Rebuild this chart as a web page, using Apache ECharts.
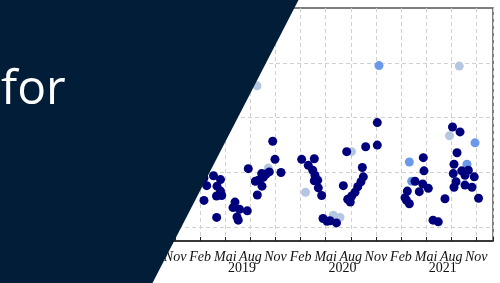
<!DOCTYPE html>
<html>
<head>
<meta charset="utf-8">
<script src="https://cdn.jsdelivr.net/npm/echarts@6/dist/echarts.min.js"></script>
<style>
  html, body { margin: 0; padding: 0; background: #fff; }
  #main { width: 500px; height: 283px; }
</style>
</head>
<body>
<div id="main"></div>
<script>
// x = months since Feb 2018, y = value (axis labels hidden in the picture)
var monthLabels = ['Aug', 'Nov', 'Feb', 'Mai', 'Aug', 'Nov', 'Feb', 'Mai', 'Aug', 'Nov', 'Feb', 'Mai', 'Aug', 'Nov'];
var yearLabels = ['2019', '2020', '2021'];
var yearPos = [17, 29, 41];
var gridLevels = [1, 2, 3, 4];

var darkPoints = [
    [12.45, 1.90], [12.78, 1.76], [13.59, 1.94], [14.43, 1.87], [14.01, 1.75], [14.43, 1.66],
    [14.57, 1.58], [13.95, 1.57], [12.45, 1.49], [13.97, 1.18], [16.16, 1.46], [15.92, 1.36],
    [16.70, 1.33], [17.63, 1.30], [16.40, 1.19], [16.55, 1.13], [17.75, 2.07], [18.95, 1.86],
    [18.83, 1.59], [19.35, 1.98], [18.59, 1.84], [19.54, 1.91], [19.87, 1.97], [20.26, 2.01],
    [19.39, 1.75], [20.67, 2.57], [20.94, 2.24], [21.66, 2.00],
    [24.13, 2.24], [25.64, 2.25], [24.92, 2.13], [25.45, 2.04], [25.72, 1.95], [25.64, 1.85],
    [26.05, 1.86], [26.12, 1.72], [26.52, 1.58], [26.68, 1.16], [27.16, 1.11], [27.52, 1.12],
    [28.29, 1.08], [29.11, 1.76], [29.51, 2.38], [31.50, 1.92], [31.22, 1.83], [30.83, 1.74],
    [30.50, 1.64], [30.11, 1.57], [29.63, 1.51], [29.94, 1.46], [31.38, 2.09], [31.78, 2.47],
    [33.17, 2.91], [33.17, 2.50],
    [36.76, 1.66], [36.48, 1.54], [37.00, 1.43], [36.66, 1.49], [37.68, 1.84], [38.60, 1.79],
    [39.27, 1.71], [38.19, 1.65], [38.67, 2.27], [38.75, 2.03], [41.26, 1.52], [39.83, 1.13],
    [40.46, 1.10], [42.16, 2.83], [43.06, 2.74], [42.70, 2.36], [42.34, 2.15], [42.25, 1.98],
    [43.26, 2.03], [44.05, 2.04], [43.65, 1.95], [44.76, 1.92], [42.58, 1.83], [42.34, 1.73],
    [43.65, 1.77], [44.49, 1.73], [45.27, 1.53]
];
var bluePoints = [[33.37, 3.95], [37.00, 2.19], [37.28, 1.84], [43.89, 2.15], [44.85, 2.54]];
var palePoints = [
    [18.79, 3.58], [20.14, 2.08], [24.59, 1.64], [30.09, 2.38],
    [27.91, 1.22], [28.71, 1.18], [41.80, 2.67], [42.97, 3.94]
];

var monthCats = [];
for (var m = 6; m <= 47; m++) {
    var k = yearPos.indexOf(m);
    monthCats.push(k >= 0 ? yearLabels[k] : '');
}

var chart = echarts.init(document.getElementById('main'));
var option = {
    animation: false,
    backgroundColor: '#fff',
    grid: {
        left: 150, right: 7, top: 8, bottom: 42,
        show: true, borderColor: '#555', borderWidth: 1.5, backgroundColor: 'transparent'
    },
    xAxis: [{
        type: 'value', min: 6, max: 47, interval: 3,
        axisLine: { lineStyle: { color: '#222', width: 1.5 } },
        axisTick: { inside: true, length: 4, lineStyle: { color: '#222' } },
        splitLine: { show: true, lineStyle: { color: '#d0d0d0', type: [4, 3] } },
        axisLabel: {
            margin: 9, color: '#111', fontSize: 14,
            fontFamily: 'Liberation Serif', fontStyle: 'italic',
            formatter: function (v) {
                var i = (v - 6) / 3;
                return Number.isInteger(i) && monthLabels[i] ? monthLabels[i] : '';
            }
        }
    }, {
        type: 'category', position: 'bottom', boundaryGap: false, data: monthCats,
        axisLine: { show: false }, axisTick: { show: false }, splitLine: { show: false },
        axisLabel: { interval: 0, margin: 20, color: '#111', fontSize: 14, fontFamily: 'Liberation Serif' }
    }],
    yAxis: {
        type: 'value', min: 0.75, max: 5,
        axisLine: { show: false }, axisTick: { show: false },
        axisLabel: { show: false }, splitLine: { show: false }
    },
    series: [{
        type: 'scatter', data: [], z: 1, silent: true,
        markLine: {
            z: 0, silent: true, symbol: 'none', label: { show: false },
            lineStyle: { color: '#d0d0d0', type: [4, 3], width: 1 },
            data: gridLevels.map(function (g) { return { yAxis: g }; })
        }
    }, {
        type: 'scatter', data: palePoints, symbolSize: 9, z: 2,
        itemStyle: { color: '#b4c6e0', opacity: 1 }
    }, {
        type: 'scatter', data: bluePoints, symbolSize: 9, z: 3,
        itemStyle: { color: '#6a98ea', opacity: 1 }
    }, {
        type: 'scatter', data: darkPoints, symbolSize: 9, z: 4,
        itemStyle: { color: '#00007d', opacity: 1 }
    }],
    graphic: [{
        type: 'polygon', z: 100, silent: true,
        shape: { points: [[0, 0], [298.5, 0], [152.5, 283], [0, 283]] },
        style: { fill: '#021d37' }
    }, {
        type: 'text', z: 101, left: 1, top: 66, silent: true,
        style: { text: 'for', fill: '#fff', font: '48px "Open Sans"' }
    }]
};
chart.setOption(option);
window.addEventListener('resize', function () { chart.resize(); });
</script>
</body>
</html>
